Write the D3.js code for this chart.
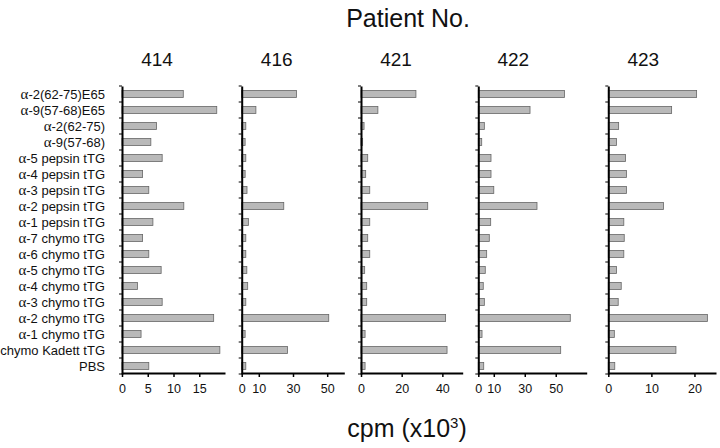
<!DOCTYPE html>
<html><head><meta charset="utf-8">
<script src="https://cdn.jsdelivr.net/npm/d3@7"></script>
<style>body{margin:0;background:#fff}svg{display:block}text{font-family:"Liberation Sans",Arial,sans-serif;fill:#111}</style>
</head><body>
<svg id="c" width="720" height="448"></svg>
<script>
const categories = ["α-2(62-75)E65","α-9(57-68)E65","α-2(62-75)","α-9(57-68)","α-5 pepsin tTG","α-4 pepsin tTG","α-3 pepsin tTG","α-2 pepsin tTG","α-1 pepsin tTG","α-7 chymo tTG","α-6 chymo tTG","α-5 chymo tTG","α-4 chymo tTG","α-3 chymo tTG","α-2 chymo tTG","α-1 chymo tTG","chymo Kadett tTG","PBS"];
const patients = ["414","416","421","422","423"];
const v414 = [11.9,18.4,6.7,5.6,7.8,4.0,5.2,12.0,6.0,4.0,5.2,7.6,3.0,7.8,17.8,3.7,19.0,5.2];
const v416 = [32,8.3,2.4,2,2.4,2,3.1,24.6,3.9,2.4,2.4,3,3.5,2.4,50.9,2,26.8,2.4];
const v421 = [27,8.3,1.5,0.8,3.3,2.3,4.3,32.8,4.3,3.3,4.3,1.8,2.8,2.8,41.6,2,42.3,2];
const v422 = [55.7,33.4,3.9,2.2,8.2,8.2,10,37.9,8,7.1,5.4,4.5,3.2,3.9,59.4,2.4,53.2,3.5];
const v423 = [20.5,14.7,2.4,1.9,4,4.2,4.2,12.8,3.6,3.7,3.6,1.9,3,2.3,23,1.4,15.7,1.5];
const domainMax = [20,60,50,70,25];
const tickVals = [[0,5,10,15],[0,10,30,50],[0,20,40],[0,10,30,50],[0,10,20]];
const series = [v414,v416,v421,v422,v423];

// layout
const panelX = [122,241.7,361,478.3,608.3];
const panelW = [103,102.6,101.7,108.4,107.7];
const plotTop = 86, plotBottom = 374;

const svg = d3.select("#c");
const y = d3.scaleBand().domain(categories).range([plotTop,plotBottom]).paddingInner(0.56).paddingOuter(0.28);

// category labels
const lab = svg.append("g");
categories.forEach(c=>{
  const t = lab.append("text").attr("x",105).attr("y",y(c)+y.bandwidth()/2+4.6)
    .attr("text-anchor","end").attr("font-size",13);
  if(c.startsWith("α")){
    t.append("tspan").attr("font-family","Liberation Serif").attr("font-size",15).text("α");
    t.append("tspan").text(c.slice(1));
  } else t.text(c);
});

patients.forEach((p,i)=>{
  const x = d3.scaleLinear().domain([0,domainMax[i]]).range([panelX[i],panelX[i]+panelW[i]]);
  const g = svg.append("g");
  // bars
  g.selectAll("rect").data(series[i]).join("rect")
    .attr("x",x(0)).attr("y",(d,j)=>y(categories[j]))
    .attr("width",d=>x(d)-x(0)).attr("height",y.bandwidth())
    .attr("fill","#b9b9b9").attr("stroke","#666").attr("stroke-width",0.8);
  // x axis
  const ax = g.append("g").attr("transform",`translate(0,${plotBottom-1})`)
    .call(d3.axisBottom(x).tickValues(tickVals[i]).tickSize(4).tickSizeOuter(0).tickFormat(d3.format("d")));
  ax.select(".domain").attr("stroke","#000").attr("stroke-width",2);
  ax.selectAll(".tick line").attr("stroke","#000").attr("stroke-width",1.5);
  ax.selectAll(".tick text").attr("font-size",12.5).attr("dy","1.0em").attr("fill","#111").attr("font-family","Liberation Sans, Arial, sans-serif");
  // y axis
  const ay = g.append("g").attr("transform",`translate(${x(0)},0)`)
    .call(d3.axisLeft(y).tickSize(0).tickFormat(""));
  ay.select(".domain").attr("stroke","#000").attr("stroke-width",2);
  // boundary ticks
  const bounds = d3.range(categories.length+1).map(k=>plotTop+k*y.step());
  g.selectAll("line.b").data(bounds).join("line").attr("class","b")
    .attr("x1",x(0)-3).attr("x2",x(0)).attr("y1",d=>d).attr("y2",d=>d)
    .attr("stroke","#000").attr("stroke-width",1);
  // heading
  svg.append("text").attr("x",x(0)+35).attr("y",66).attr("text-anchor","middle")
    .attr("font-size",19).text(p);
});

svg.append("text").attr("x",408).attr("y",27).attr("text-anchor","middle").attr("font-size",25).text("Patient No.");
const ct = svg.append("text").attr("x",407).attr("y",437).attr("text-anchor","middle").attr("font-size",25);
ct.append("tspan").text("cpm (x10");
ct.append("tspan").attr("font-size",15).attr("dy",-9).text("3");
ct.append("tspan").attr("dy",9).text(")");
</script>
</body></html>
